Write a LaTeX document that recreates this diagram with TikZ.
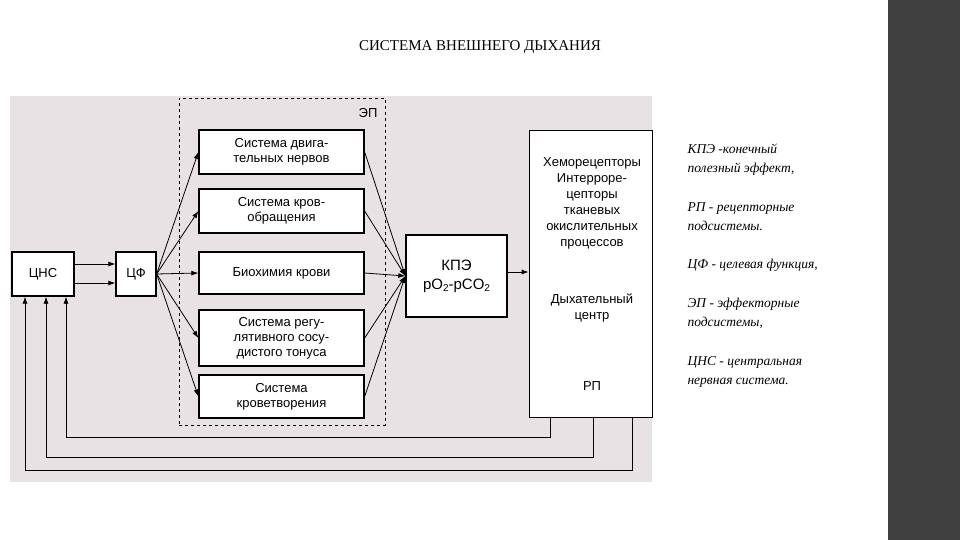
\documentclass[tikz,border=0pt]{standalone}
\usepackage{fontspec}
\usetikzlibrary{arrows.meta}
\setmainfont{Liberation Serif}
\newfontfamily\arialf{Liberation Sans}
\definecolor{panel}{RGB}{233,226,228}
\newcommand{\sbs}[1]{\raisebox{-0.35ex}{\fontsize{10}{10}\selectfont #1}}
\begin{document}
\begin{tikzpicture}[x=1pt,y=-1pt,
  bx/.style={draw=black,line width=1.3pt,fill=white,inner sep=0pt,align=center,font=\arialf\fontsize{13}{15}\selectfont},
  ar/.style={-{Latex[length=7pt,width=5pt]},line width=0.8pt},
  note/.style={anchor=north west,align=left,font=\itshape\fontsize{13.5}{19}\selectfont}]
\useasboundingbox (0,0) rectangle (960,540);
\fill[white] (0,0) rectangle (960,540);
\fill[black!75] (888,0) rectangle (960,540);
\fill[panel] (10,96) rectangle (652,482);
\node[font=\fontsize{15}{17}\selectfont] (title) at (480,47) {СИСТЕМА ВНЕШНЕГО ДЫХАНИЯ};
\node[draw=black,dashed,line width=0.7pt,minimum width=206pt,minimum height=327pt,inner sep=0pt] (ep) at (282,261.5) {};
\node[font=\arialf\fontsize{13}{15}\selectfont] (eplab) at (368,113) {ЭП};
\node[bx,minimum width=62pt,minimum height=44pt] (cns) at (43,274) {ЦНС};
\node[bx,minimum width=40pt,minimum height=44pt] (cf) at (136,274) {ЦФ};
\node[bx,minimum width=165pt,minimum height=44pt] (b1) at (281.5,152) {Система двига-\\тельных нервов};
\node[bx,minimum width=165pt,minimum height=44pt] (b2) at (281.5,211) {Система кров-\\обращения};
\node[bx,minimum width=165pt,minimum height=42pt] (b3) at (281.5,273) {Биохимия крови};
\node[bx,minimum width=165pt,minimum height=56pt] (b4) at (281.5,338) {Система регу-\\лятивного сосу-\\дистого тонуса};
\node[bx,minimum width=165pt,minimum height=43pt] (b5) at (281.5,396.5) {Система\\кроветворения};
\node[bx,minimum width=101pt,minimum height=82pt,font=\arialf\fontsize{15}{19}\selectfont] (kpe) at (456.5,276) {КПЭ\\pO\sbs{2}-pCO\sbs{2}};
\node[draw=black,line width=0.8pt,fill=white,minimum width=123pt,minimum height=287pt,inner sep=0pt] (rp) at (590.5,273.5) {};
\node[align=center,font=\arialf\fontsize{13}{16}\selectfont] (rpt1) at (592,203) {Хеморецепторы\\Интерроре-\\цепторы\\тканевых\\окислительных\\процессов};
\node[align=center,font=\arialf\fontsize{13}{16}\selectfont] (rpt2) at (592,308) {Дыхательный\\центр};
\node[font=\arialf\fontsize{13}{15}\selectfont] (rpt3) at (592,386) {РП};
\draw[ar] ([yshift=-9pt]cns.east) -- ([yshift=-9pt]cf.west);
\draw[ar] ([yshift=10pt]cns.east) -- ([yshift=10pt]cf.west);
\foreach \b in {b1,b2,b3,b4,b5}{
  \draw[ar] (cf.east) -- (\b.west);
  \draw[ar] (\b.east) -- (kpe.west);
}
\draw[ar] (kpe.east |- 0,272) -- (rp.west |- 0,272);
\draw[ar] (rp.south -| 550,0) |- (66,437) -- (cns.south -| 66,0);
\draw[ar] (rp.south -| 593,0) |- (46,457) -- (cns.south -| 46,0);
\draw[ar] (rp.south -| 632,0) |- (25,470) -- (cns.south -| 25,0);
\node[note] (n1) at (684,140) {КПЭ -конечный\\полезный эффект,};
\node[note] (n2) at (684,199) {РП - рецепторные\\подсистемы.};
\node[note] (n3) at (684,256) {ЦФ - целевая функция,};
\node[note] (n4) at (684,295) {ЭП - эффекторные\\подсистемы,};
\node[note] (n5) at (684,353) {ЦНС - центральная\\нервная система.};
\end{tikzpicture}
\end{document}
